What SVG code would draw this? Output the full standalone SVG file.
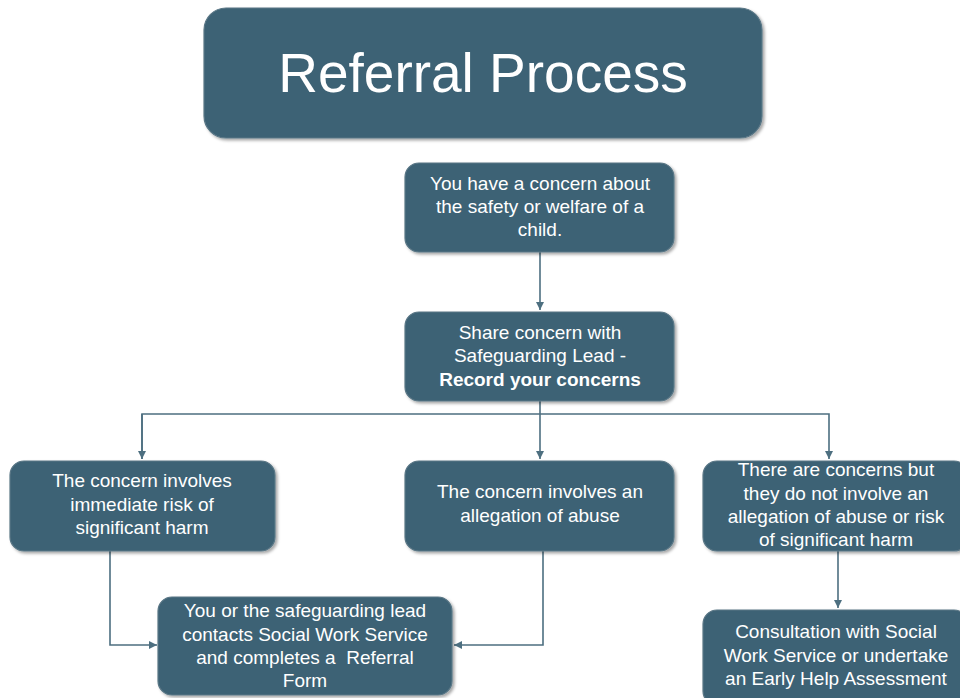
<svg xmlns="http://www.w3.org/2000/svg" width="960" height="698" viewBox="0 0 960 698">
<defs>
<style>
.box{fill:#3e6275;stroke:#5a7786;stroke-width:1.2}
.t{font-family:"Liberation Sans",Arial,sans-serif;font-size:19px;fill:#ffffff;text-anchor:middle}
.title{font-family:"Liberation Sans",Arial,sans-serif;font-size:55px;fill:#ffffff;text-anchor:middle}
.c{fill:none;stroke:#4d6f80;stroke-width:1.6}
</style>
<filter id="sh" x="-10%" y="-10%" width="130%" height="130%">
<feDropShadow dx="2" dy="2" stdDeviation="1.5" flood-color="#000" flood-opacity="0.35"/>
</filter>
<marker id="ah" viewBox="0 0 10 10" refX="10" refY="5" markerWidth="8" markerHeight="8" orient="auto" markerUnits="userSpaceOnUse">
<path d="M0,0 L10,5 L0,10 z" fill="#4d6f80"/>
</marker>
</defs>
<rect width="960" height="698" fill="#ffffff"/>
<g id="connectors">
<path class="c" d="M540,252 V310" marker-end="url(#ah)"/>
<path class="c" d="M540,401 V459" marker-end="url(#ah)"/>
<path class="c" d="M142,459 V414 H829 V459" marker-end="url(#ah)"/>
<path class="c" d="M142,414 V459" marker-end="url(#ah)"/>
<path class="c" d="M110,551 V645 H157" marker-end="url(#ah)"/>
<path class="c" d="M543,551 V645 H454" marker-end="url(#ah)"/>
<path class="c" d="M838,551 V608" marker-end="url(#ah)"/>
</g>
<g id="title">
<rect class="box" x="204" y="8" width="558" height="130" rx="22" filter="url(#sh)"/>
<text class="title" x="483" y="92">Referral Process</text>
</g>
<g id="n1">
<rect class="box" x="405" y="163" width="269" height="89" rx="14" filter="url(#sh)"/>
<text class="t" x="540" y="190">You have a concern about</text>
<text class="t" x="540" y="213">the safety or welfare of a</text>
<text class="t" x="540" y="236">child.</text>
</g>
<g id="n2">
<rect class="box" x="405" y="312" width="269" height="89" rx="14" filter="url(#sh)"/>
<text class="t" x="540" y="339">Share concern with</text>
<text class="t" x="540" y="362">Safeguarding Lead -</text>
<text class="t" x="540" y="386" font-weight="bold">Record your concerns</text>
</g>
<g id="n3">
<rect class="box" x="10" y="461" width="265" height="90" rx="14" filter="url(#sh)"/>
<text class="t" x="142" y="487">The concern involves</text>
<text class="t" x="142" y="511">immediate risk of</text>
<text class="t" x="142" y="534">significant harm</text>
</g>
<g id="n4">
<rect class="box" x="405" y="461" width="269" height="90" rx="14" filter="url(#sh)"/>
<text class="t" x="540" y="498">The concern involves an</text>
<text class="t" x="540" y="522">allegation of abuse</text>
</g>
<g id="n5">
<rect class="box" x="703" y="461" width="265" height="90" rx="14" filter="url(#sh)"/>
<text class="t" x="836" y="476">There are concerns but</text>
<text class="t" x="836" y="500">they do not involve an</text>
<text class="t" x="836" y="523">allegation of abuse or risk</text>
<text class="t" x="836" y="546">of significant harm</text>
</g>
<g id="n6">
<rect class="box" x="158" y="597" width="294" height="98" rx="14" filter="url(#sh)"/>
<text class="t" x="305" y="617">You or the safeguarding lead</text>
<text class="t" x="305" y="641">contacts Social Work Service</text>
<text class="t" x="305" y="664" xml:space="preserve">and completes a  Referral</text>
<text class="t" x="305" y="687">Form</text>
</g>
<g id="n7">
<rect class="box" x="703" y="610" width="265" height="95" rx="14" filter="url(#sh)"/>
<text class="t" x="836" y="638">Consultation with Social</text>
<text class="t" x="836" y="662">Work Service or undertake</text>
<text class="t" x="836" y="685">an Early Help Assessment</text>
</g>
</svg>
